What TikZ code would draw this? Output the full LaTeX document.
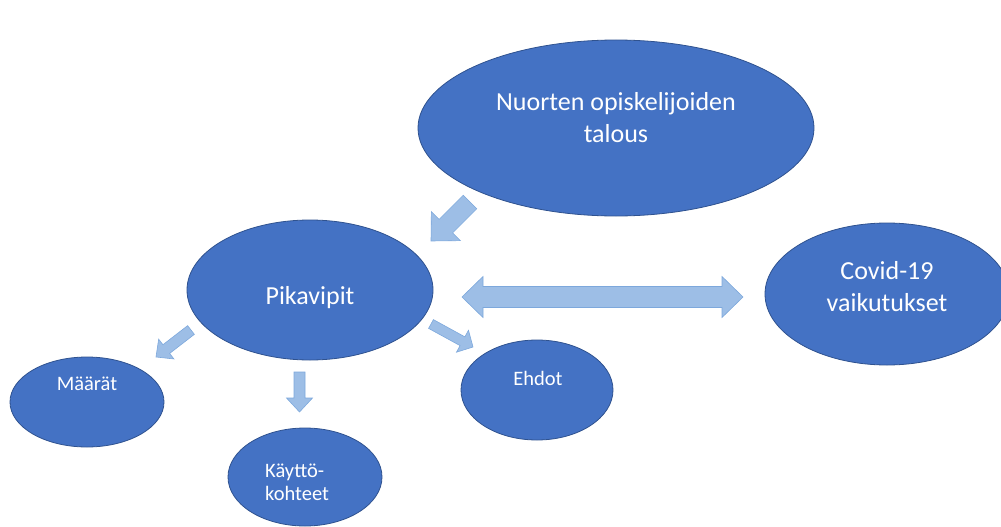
\documentclass[tikz,border=0pt]{standalone}
\usepackage{fontspec}
\setmainfont{Carlito}
\usetikzlibrary{calc,shapes.geometric}
\definecolor{ellfill}{HTML}{4472C4}
\definecolor{ellline}{HTML}{2F528F}
\definecolor{arrfill}{RGB}{157,190,230}
\definecolor{arrline}{RGB}{125,168,220}
\tikzset{
 ell/.style={ellipse, fill=ellfill, draw=ellline, line width=0.8pt, inner sep=0pt},
 bigtxt/.style={text=white, font=\fontsize{26}{32}\selectfont, align=center, inner sep=0pt},
 smalltxt/.style={text=white, font=\fontsize{20.5}{23}\selectfont, align=center, inner sep=0pt},
 barrow/.style={fill=arrfill, draw=arrline, line width=0.6pt, line join=miter},
}
% block arrow: #1 start, #2 tip, #3 shaft half width, #4 head half width, #5 head length, #6 name
\newcommand\blockarrow[6]{%
 \coordinate (#6h) at ($(#2)!#5!(#1)$);
 \draw[barrow] ($(#1)!#3!90:(#2)$) -- ($(#6h)!#3!-90:(#1)$) -- ($(#6h)!#4!-90:(#1)$) -- (#2)
   -- ($(#6h)!#4!90:(#1)$) -- ($(#6h)!#3!90:(#1)$) -- ($(#1)!#3!-90:(#2)$) -- cycle;}
\begin{document}
\begin{tikzpicture}[x=1pt,y=-1pt]
\useasboundingbox (0,0) rectangle (1001,527);
\clip (0,0) rectangle (1001,527);
% ellipses
\node[ell, minimum width=396pt, minimum height=176pt] (big) at (616,128) {};
\node[ell, minimum width=246pt, minimum height=140pt] (pik) at (310,290) {};
\node[ell, minimum width=244pt, minimum height=142pt] (cov) at (887,294) {};
\node[ell, minimum width=154pt, minimum height=90pt] (maa) at (87,402) {};
\node[ell, minimum width=152pt, minimum height=100pt] (ehd) at (537,390) {};
\node[ell, minimum width=154pt, minimum height=98pt] (kay) at (305,477) {};
% texts
\node[bigtxt] (tbig) at (616,118) {Nuorten opiskelijoiden\\talous};
\node[bigtxt] (tpik) at (310,298) {Pikavipit};
\node[bigtxt] (tcov) at (887,287) {Covid-19\\vaikutukset};
\node[smalltxt] (tmaa) at (87,384) {Määrät};
\node[smalltxt] (tehd) at (538,378) {Ehdot};
\node[smalltxt, align=left, anchor=west] (tkay) at (265,482) {Käyttö-\\kohteet};
% arrow end points
\coordinate (a1s) at (470,202); \coordinate (a1t) at (431,241);
\coordinate (a3s) at (191,330); \coordinate (a3t) at (156,357);
\coordinate (a4s) at (299.5,372); \coordinate (a4t) at (299.5,412);
\coordinate (a5s) at (431,324); \coordinate (a5t) at (473,347);
\coordinate (dl) at (462,297); \coordinate (dr) at (743,297);
\blockarrow{a1s}{a1t}{9.5pt}{20.5pt}{21pt}{a1}
\blockarrow{a3s}{a3t}{5.5pt}{12.5pt}{13pt}{a3}
\blockarrow{a4s}{a4t}{5.5pt}{13pt}{14pt}{a4}
\blockarrow{a5s}{a5t}{5pt}{12.5pt}{12pt}{a5}
\draw[barrow] (dl) -- ++(21,-20.5) -- ++(0,10) -- ($(dr)+(-21,-10.5)$) -- ++(0,-10) -- (dr)
  -- ++(-21,20.5) -- ++(0,-10) -- ($(dl)+(21,10.5)$) -- ++(0,10) -- cycle;
\end{tikzpicture}
\end{document}
